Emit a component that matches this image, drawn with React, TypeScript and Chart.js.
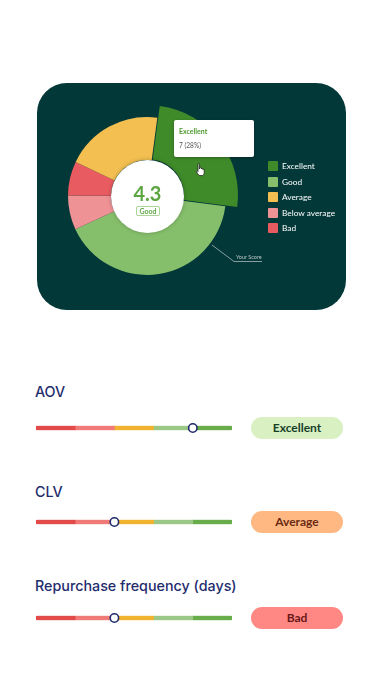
import React, { useEffect, useRef } from 'react';
import { Chart, registerables } from 'chart.js';

Chart.register(...registerables);

// ---------- data ----------
const categories = ['Excellent', 'Good', 'Average', 'Below average', 'Bad'];
const categoryColors = ['#3f8a29', '#86bf6b', '#f2bf50', '#ef9296', '#e85b60'];
const pieShares = [25, 41, 20, 7, 7]; // share of the pie per category (%)
const pieOrder = [0, 1, 3, 4, 2]; // clockwise order of the slices
const highlighted = 'Excellent';
const scoreValue = '4.3';
const scoreLabel = 'Good';
const tooltipTitle = 'Excellent';
const tooltipBody = '7 (28%)';
const annotationText = 'Your Score';

const metrics = ['AOV', 'CLV', 'Repurchase frequency (days)'];
const metricPositions = [80, 40, 40];
const metricRatings = ['Excellent', 'Average', 'Bad'];
const bandNames = ['Bad', 'Below average', 'Average', 'Good', 'Excellent'];
const bandWidths = [20, 20, 20, 20, 20];

// ---------- styles ----------
const bandColors = ['#e34a4a', '#ef7a78', '#f1b32f', '#9cc887', '#68ad4a'];
const pillStyles: Record<string, { bg: string; fg: string }> = {
  Excellent: { bg: '#d9f0c2', fg: '#173f28' },
  Average: { bg: '#ffb882', fg: '#6a2a12' },
  Bad: { bg: '#ff8884', fg: '#6a1717' },
};
const rowLayout = [
  { title: 392, bar: 428 },
  { title: 492, bar: 522 },
  { title: 586, bar: 618 },
];
const CARD_BG = '#033838';
const PIE_CX = 147;
const PIE_CY = 196;
const PIE_CANVAS = 220;

const popOutPlugin = {
  id: 'popOut',
  beforeDatasetsDraw(chart: any) {
    const meta = chart.getDatasetMeta(0);
    const ctrl = meta.controller;
    meta.data.forEach((arc: any, i: number) => {
      const label = chart.data.labels[i];
      arc.outerRadius = ctrl.outerRadius + (label === highlighted ? 11 : 0);
    });
  },
};

function PieChart() {
  const ref = useRef<HTMLCanvasElement>(null);
  useEffect(() => {
    const chart = new Chart(ref.current as HTMLCanvasElement, {
      type: 'doughnut',
      data: {
        labels: pieOrder.map((i) => categories[i]),
        datasets: [
          {
            data: pieOrder.map((i) => pieShares[i]),
            backgroundColor: pieOrder.map((i) => categoryColors[i]),
            borderWidth: 0,
            offset: pieOrder.map((i) => (categories[i] === highlighted ? 5 : 0)),
          } as any,
        ],
      },
      options: {
        responsive: false,
        animation: false,
        events: [],
        radius: 79,
        cutout: '45.5%',
        rotation: 7.5,
        layout: { padding: 0 },
        plugins: { legend: { display: false }, tooltip: { enabled: false } },
      } as any,
      plugins: [popOutPlugin],
    });
    return () => chart.destroy();
  }, []);
  return (
    <canvas
      ref={ref}
      width={PIE_CANVAS}
      height={PIE_CANVAS}
      style={{
        position: 'absolute',
        left: PIE_CX - PIE_CANVAS / 2,
        top: PIE_CY - PIE_CANVAS / 2,
        width: PIE_CANVAS,
        height: PIE_CANVAS,
      }}
    />
  );
}

function Slider({ metric, position, center }: { metric: string; position: number; center: number }) {
  const ref = useRef<HTMLCanvasElement>(null);
  useEffect(() => {
    const last = bandWidths.length - 1;
    const chart = new Chart(ref.current as HTMLCanvasElement, {
      type: 'bar',
      data: {
        labels: [metric],
        datasets: [
          {
            type: 'scatter',
            label: 'marker',
            data: [{ x: position, y: metric }],
            pointRadius: 4.2,
            pointBorderWidth: 1.6,
            pointBackgroundColor: '#ffffff',
            pointBorderColor: '#1f2a6b',
            order: 0,
            stack: 'marker',
          } as any,
          ...bandWidths.map((w, i) => ({
            type: 'bar',
            label: bandNames[i],
            data: [w],
            backgroundColor: bandColors[i],
            barThickness: 5,
            borderSkipped: false,
            borderRadius:
              i === 0
                ? { topLeft: 2.5, bottomLeft: 2.5, topRight: 0, bottomRight: 0 }
                : i === last
                ? { topLeft: 0, bottomLeft: 0, topRight: 2.5, bottomRight: 2.5 }
                : 0,
            order: 1,
            stack: 'bands',
          })) as any,
        ],
      },
      options: {
        indexAxis: 'y',
        responsive: false,
        animation: false,
        events: [],
        layout: { padding: { left: 6, right: 6, top: 0, bottom: 0 } },
        plugins: { legend: { display: false }, tooltip: { enabled: false } },
        scales: {
          x: { type: 'linear', min: 0, max: 100, stacked: true, display: false },
          y: { type: 'category', stacked: true, display: false },
        },
      } as any,
    });
    return () => chart.destroy();
  }, []);
  return (
    <canvas
      ref={ref}
      width={208}
      height={16}
      style={{ position: 'absolute', left: 30, top: center - 8, width: 208, height: 16 }}
    />
  );
}

export default function App() {
  const lato = 'Lato, "Noto Sans", sans-serif';
  const inter = 'Inter, "Noto Sans", sans-serif';
  return (
    <div style={{ position: 'absolute', left: 0, top: 0, width: 382, height: 685, background: '#ffffff', overflow: 'hidden' }}>
      {/* card */}
      <div
        style={{
          position: 'absolute',
          left: 37,
          top: 83,
          width: 309,
          height: 227,
          borderRadius: 30,
          background: CARD_BG,
        }}
      />
      <PieChart />
      {/* center disc */}
      <div
        style={{
          position: 'absolute',
          left: PIE_CX - 36.5,
          top: PIE_CY - 36.5,
          width: 73,
          height: 73,
          borderRadius: '50%',
          background: '#ffffff',
          boxShadow: '0 0 4px rgba(0,0,0,0.25)',
        }}
      />
      <div
        style={{
          position: 'absolute',
          left: PIE_CX - 30,
          top: 181,
          width: 61,
          height: 24,
          lineHeight: '24px',
          textAlign: 'center',
          fontFamily: lato,
          fontWeight: 700,
          fontSize: 20,
          color: '#5ca641',
        }}
      >
        {scoreValue}
      </div>
      <div
        style={{
          position: 'absolute',
          left: 136,
          top: 205.5,
          width: 22,
          height: 8,
          border: '1px solid #a9d597',
          borderRadius: 2,
          lineHeight: '8px',
          textAlign: 'center',
          fontFamily: lato,
          fontWeight: 700,
          fontSize: 7,
          color: '#5ca641',
        }}
      >
        {scoreLabel}
      </div>
      {/* tooltip */}
      <div
        style={{
          position: 'absolute',
          left: 174,
          top: 120,
          width: 80,
          height: 37,
          background: '#ffffff',
          borderRadius: 2,
          boxShadow: '0 1px 3px rgba(0,0,0,0.3)',
        }}
      >
        <div style={{ position: 'absolute', left: 5, top: 6, lineHeight: '10px', fontFamily: lato, fontWeight: 700, fontSize: 7, color: '#4e9a32' }}>
          {tooltipTitle}
        </div>
        <div style={{ position: 'absolute', left: 5, top: 19.5, lineHeight: '10px', fontFamily: lato, fontSize: 6.6, color: '#555555' }}>
          {tooltipBody}
        </div>
      </div>
      {/* cursor */}
      <svg style={{ position: 'absolute', left: 195, top: 163 }} width={12} height={14} viewBox="0 0 12 14">
        <path
          d="M3 1.2 C3 0.5 4.4 0.5 4.4 1.2 L4.4 6 L4.8 4.6 C5 4 6.2 4 6.2 4.8 L6.3 6 C6.5 5.3 7.7 5.3 7.7 6.1 L7.8 6.6 C8 6 9.2 6.1 9.2 6.9 L9.2 9.5 C9.2 11 8.4 12.4 7.4 12.6 L4.6 12.6 C3.6 12.2 2.6 10.6 1.6 9 C1 8 2 7.4 2.7 8.2 L3 8.6 Z"
          fill="#ffffff"
          stroke="#222222"
          strokeWidth={0.8}
        />
      </svg>
      {/* annotation */}
      <svg style={{ position: 'absolute', left: 0, top: 0 }} width={382} height={320}>
        <polyline points="212,245 234,261.5 262,261.5" fill="none" stroke="#a9b9b9" strokeWidth={0.8} />
      </svg>
      <div
        style={{
          position: 'absolute',
          left: 236,
          top: 253,
          lineHeight: '8px',
          fontFamily: lato,
          fontSize: 5.5,
          color: '#b9c6c6',
          whiteSpace: 'nowrap',
        }}
      >
        {annotationText}
      </div>
      {/* legend */}
      {categories.map((c, i) => (
        <React.Fragment key={c}>
          <div
            style={{
              position: 'absolute',
              left: 268,
              top: 161 + i * 15.5,
              width: 10,
              height: 10,
              borderRadius: 1,
              background: categoryColors[i],
            }}
          />
          <div
            style={{
              position: 'absolute',
              left: 282,
              top: 160 + i * 15.5,
              height: 12,
              lineHeight: '12px',
              fontFamily: lato,
              fontSize: 8.3,
              color: '#ffffff',
              whiteSpace: 'nowrap',
            }}
          >
            {c}
          </div>
        </React.Fragment>
      ))}
      {/* metric rows */}
      {metrics.map((m, i) => {
        const r = rowLayout[i];
        const pill = pillStyles[metricRatings[i]];
        return (
          <React.Fragment key={m}>
            <div
              style={{
                position: 'absolute',
                left: 35,
                top: r.title - 10,
                height: 20,
                lineHeight: '20px',
                fontFamily: inter,
                fontWeight: 500,
                fontSize: 14.3,
                color: '#1f2d6d',
                whiteSpace: 'nowrap',
              }}
            >
              {m}
            </div>
            <Slider metric={m} position={metricPositions[i]} center={r.bar} />
            <div
              style={{
                position: 'absolute',
                left: 251,
                top: r.bar - 11,
                width: 92,
                height: 22,
                borderRadius: 11,
                background: pill.bg,
                color: pill.fg,
                lineHeight: '22px',
                textAlign: 'center',
                fontFamily: lato,
                fontWeight: 700,
                fontSize: 12,
              }}
            >
              {metricRatings[i]}
            </div>
          </React.Fragment>
        );
      })}
    </div>
  );
}
